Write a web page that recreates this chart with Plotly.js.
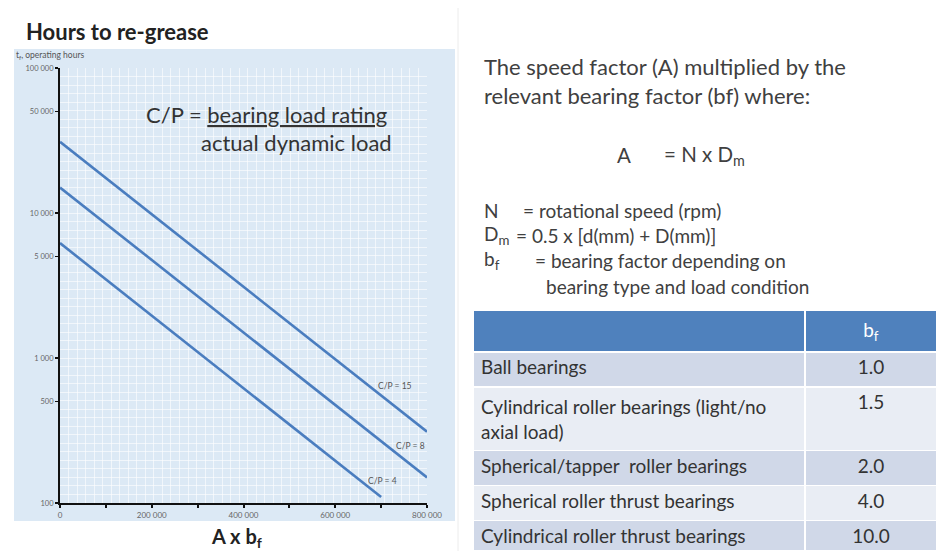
<!DOCTYPE html>
<html>
<head>
<meta charset="utf-8">
<script src="https://cdn.plot.ly/plotly-3.0.1.min.js"></script>
<style>html,body{margin:0;padding:0;background:#fff;}#chart{width:943px;height:551px;}</style>
</head>
<body>
<div id="chart"></div>
<script>
// ---- data ----
const seriesNames = ['C/P = 15', 'C/P = 8', 'C/P = 4'];
const xCP15 = [0, 800000];
const yCP15 = [31000, 310];
const xCP8 = [0, 800000];
const yCP8 = [15000, 150];
const xCP4 = [0, 700000];
const yCP4 = [6200, 110];
// label anchor positions (data units; y in hours)
const labelX = [730000, 765000, 702000];
const labelY = [641, 247, 142];

const yTickVals = [100, 500, 1000, 5000, 10000, 50000, 100000];
const yTickText = ['100', '500', '1 000', '5 000', '10 000', '50 000', '100 000'];
const xTickVals = [0, 100000, 200000, 300000, 400000, 500000, 600000, 700000, 800000];
const xTickText = ['0', '', '200 000', '', '400 000', '', '600 000', '', '800 000'];

const bearingTypes = [
  'Ball bearings',
  'Cylindrical roller bearings (light/no<br>axial load)',
  'Spherical/tapper  roller bearings',
  'Spherical roller thrust bearings',
  'Cylindrical roller thrust bearings'
];
const bfValues = ['1.0', '1.5', '2.0', '4.0', '10.0'];

// ---- layout helpers ----
const W = 943, H = 551;
const px = v => v / W;
const py = v => 1 - v / H;
const FONT = 'Lato, "Open Sans", sans-serif';
const lineColor = '#4a7dbf';

const xs = [xCP15, xCP8, xCP4];
const ys = [yCP15, yCP8, yCP4];
const traces = xs.map((x, i) => ({
  type: 'scatter', mode: 'lines', x: x, y: ys[i], name: seriesNames[i],
  xaxis: 'x', yaxis: 'y', line: {color: lineColor, width: 2.6}, showlegend: false, hoverinfo: 'skip'
}));

// invisible trace to create overlay grid subplot
traces.unshift({type: 'scatter', mode: 'markers', x: [], y: [], xaxis: 'x2', yaxis: 'y2', showlegend: false, hoverinfo: 'skip'});

const rowFill = ['#d0d8e8', '#e9edf4', '#d0d8e8', '#e9edf4', '#d0d8e8'];
traces.push({
  type: 'table',
  domain: {x: [px(473), px(937)], y: [0, py(310)]},
  columnwidth: [332, 132],
  header: {
    values: ['', 'b<sub>f</sub>'],
    align: ['left', 'center'],
    fill: {color: '#4f81bd'},
    line: {color: '#ffffff', width: 1.5},
    font: {family: FONT, size: 19, color: '#ffffff'},
    height: 35
  },
  cells: {
    values: [bearingTypes, bfValues],
    align: ['left', 'center'],
    fill: {color: [rowFill, rowFill]},
    line: {color: '#ffffff', width: 1.5},
    font: {family: FONT, size: 19, color: '#333333'},
    height: 35
  }
});

const annotations = [];
seriesNames.forEach((n, i) => {
  annotations.push({xref: 'x', yref: 'y', x: labelX[i], y: Math.log10(labelY[i]), text: n, showarrow: false,
    font: {family: FONT, size: 8.5, color: '#555'}, xanchor: 'center', yanchor: 'middle'});
});
const paperText = (x, y, text, size, opts) => Object.assign({xref: 'paper', yref: 'paper', x: px(x), y: py(y), text: text,
  showarrow: false, xanchor: 'left', yanchor: 'middle', font: {family: FONT, size: size, color: '#404040'}}, opts || {});

annotations.push(paperText(24, 32, '<b>Hours to re-grease</b>', 22, {font: {family: FONT, size: 22, color: '#222'}}));
annotations.push(paperText(14, 56, 't<sub>f</sub>, operating hours', 8.5, {font: {family: FONT, size: 8.5, color: '#555'}}));
annotations.push(paperText(144, 115, 'C/P = <u>bearing load rating</u>', 22, {font: {family: FONT, size: 22, color: '#333'}}));
annotations.push(paperText(199, 142, 'actual dynamic load', 22, {font: {family: FONT, size: 22, color: '#333'}}));
annotations.push(paperText(236, 537, '<b>A x b<sub>f</sub></b>', 20, {xanchor: 'center', font: {family: FONT, size: 20, color: '#222'}}));

annotations.push(paperText(482, 67, 'The speed factor (A) multiplied by the', 22));
annotations.push(paperText(482, 95, 'relevant bearing factor (bf) where:', 22));
annotations.push(paperText(615, 155, 'A', 20.5));
annotations.push(paperText(662, 155, '= N x D<sub>m</sub>', 20.5));
annotations.push(paperText(482, 210, 'N', 19));
annotations.push(paperText(521, 210, '= rotational speed (rpm)', 19));
annotations.push(paperText(482, 235, 'D<sub>m</sub>', 19));
annotations.push(paperText(514, 235, '= 0.5 x [d(mm) + D(mm)]', 19));
annotations.push(paperText(482, 260, 'b<sub>f</sub>', 19));
annotations.push(paperText(533, 260, '= bearing factor depending on', 19));
annotations.push(paperText(544, 286, 'bearing type and load condition', 19));

const shapes = [
  {type: 'rect', xref: 'paper', yref: 'paper', x0: px(14), x1: px(455), y0: py(521), y1: py(49),
    fillcolor: '#dce9f5', line: {width: 0}, layer: 'below'},
  {type: 'line', xref: 'paper', yref: 'paper', x0: px(458), x1: px(458), y0: py(551), y1: py(8),
    line: {color: '#ececec', width: 1}, layer: 'below'}
];

const layout = {
  width: W, height: H,
  margin: {l: 0, r: 0, t: 0, b: 0},
  paper_bgcolor: '#ffffff',
  plot_bgcolor: 'rgba(0,0,0,0)',
  showlegend: false,
  xaxis: {
    domain: [px(60), px(427)], range: [0, 800000], anchor: 'y',
    tickmode: 'array', tickvals: xTickVals, ticktext: xTickText,
    ticks: 'outside', ticklen: 3, tickwidth: 2, tickcolor: '#111',
    showline: true, linecolor: '#111', linewidth: 2, showgrid: false, zeroline: false,
    tickfont: {family: FONT, size: 8, color: '#666'}, fixedrange: true
  },
  yaxis: {
    type: 'log', domain: [py(503), py(68)], range: [2, 5], anchor: 'x',
    tickmode: 'array', tickvals: yTickVals, ticktext: yTickText,
    ticks: 'outside', ticklen: 3, tickwidth: 1.5, tickcolor: '#111',
    showline: true, linecolor: '#111', linewidth: 2, showgrid: false, zeroline: false,
    tickfont: {family: FONT, size: 7.5, color: '#666'}, fixedrange: true
  },
  xaxis2: {
    overlaying: 'x', anchor: 'y2', domain: [px(60), px(427)], range: [0, 43], dtick: 1,
    showgrid: true, gridcolor: 'rgba(255,255,255,0.6)', gridwidth: 1,
    showticklabels: false, ticks: '', zeroline: false, showline: false, fixedrange: true
  },
  yaxis2: {
    overlaying: 'y', anchor: 'x2', domain: [py(503), py(68)], range: [0, 51], dtick: 1,
    showgrid: true, gridcolor: 'rgba(255,255,255,0.6)', gridwidth: 1,
    showticklabels: false, ticks: '', zeroline: false, showline: false, fixedrange: true
  },
  annotations: annotations,
  shapes: shapes,
  font: {family: FONT}
};

Plotly.newPlot('chart', traces, layout, {displayModeBar: false, staticPlot: true});
</script>
</body>
</html>
